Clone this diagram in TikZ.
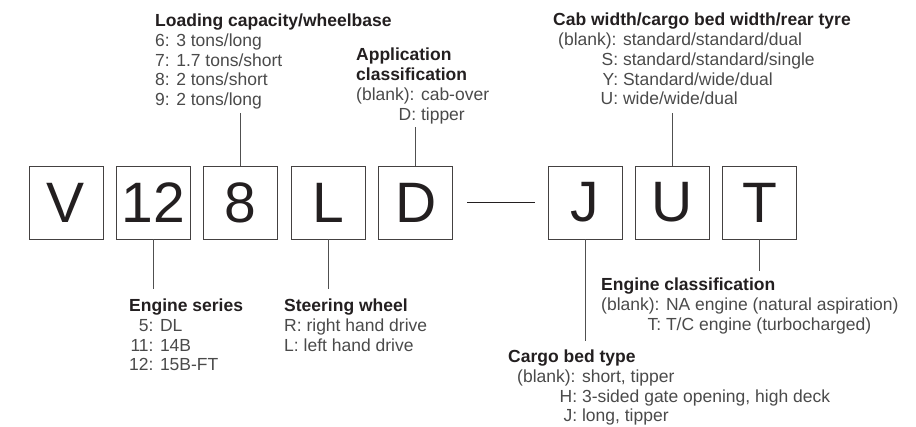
\documentclass[tikz,border=0pt]{standalone}
\usepackage{fontspec}
\setmainfont{Liberation Sans}
\usetikzlibrary{positioning}
\definecolor{inkblack}{HTML}{231F20}
\definecolor{inkgray}{HTML}{4A4A4A}
\definecolor{linegray}{HTML}{505050}
\tikzset{
	codebox/.style={draw=inkblack!85, line width=0.9pt, minimum width=74pt, minimum height=73pt,
		inner sep=0pt, text=inkblack, font=\fontsize{57}{57}\selectfont},
	lead/.style={draw=linegray, line width=0.8pt},
	legend/.style={anchor=base west, inner sep=0pt, text=inkgray, font=\fontsize{17.5}{19.7}\selectfont},
}
\newcommand{\hd}[1]{\multicolumn{2}{@{}l@{}}{\textcolor{inkblack}{\bfseries #1}}}

\begin{document}
\begin{tikzpicture}[x=1pt, y=-1pt]
	\useasboundingbox (0,0) rectangle (916,427);

	% model code boxes
	\node[codebox] (v) at (66,202.5) {V};
	\node[codebox, right=12.5pt of v] (n12) {12};
	\node[codebox, right=12.5pt of n12] (n8) {8};
	\node[codebox, right=12.5pt of n8] (l) {L};
	\node[codebox, right=12.5pt of l] (d) {D};
	\node[codebox] (j) at (585,202.5) {J};
	\node[codebox, right=12.5pt of j] (u) {U};
	\node[codebox, right=12.5pt of u] (t) {T};

	\draw[draw=inkblack, line width=1pt] ([xshift=14pt]d.east) -- ([xshift=-13pt]j.west);

	% legends
	\node[legend] (load) at (155,26.7) {\begin{tabular}[t]{@{}r@{: }l@{}}
		\hd{Loading capacity/wheelbase}\\
		6 & 3 tons/long\\
		7 & 1.7 tons/short\\
		8 & 2 tons/short\\
		9 & 2 tons/long
	\end{tabular}};
	\node[legend] (appl) at (356,61) {\begin{tabular}[t]{@{}r@{: }l@{}}
		\hd{Application}\\
		\hd{classification}\\
		(blank) & cab-over\\
		D & tipper
	\end{tabular}};
	\node[legend] (cab) at (558,26) {\begin{tabular}[t]{@{}r@{: }l@{}}
		\hd{\hspace*{-5pt}Cab width/cargo bed width/rear tyre}\\
		(blank) & standard/standard/dual\\
		S & standard/standard/single\\
		Y & Standard/wide/dual\\
		U & wide/wide/dual
	\end{tabular}};
	\node[legend] (eser) at (129,311.7) {\begin{tabular}[t]{@{}r@{: }l@{}}
		\hd{Engine series}\\
		5 & DL\\
		11 & 14B\\
		12 & 15B-FT
	\end{tabular}};
	\node[legend] (steer) at (284,311.7) {\begin{tabular}[t]{@{}l@{}}
		\textcolor{inkblack}{\bfseries Steering wheel}\\
		R: right hand drive\\
		L: left hand drive
	\end{tabular}};
	\node[legend] (ecls) at (601,291) {\begin{tabular}[t]{@{}r@{: }l@{}}
		\hd{Engine classification}\\
		(blank) & NA engine (natural aspiration)\\
		T & T/C engine (turbocharged)
	\end{tabular}};
	\node[legend] (bed) at (517,362.7) {\begin{tabular}[t]{@{}r@{: }l@{}}
		\hd{\hspace*{-9pt}Cargo bed type}\\
		(blank) & short, tipper\\
		H & 3-sided gate opening, high deck\\
		J & long, tipper
	\end{tabular}};

	% leader lines
	\coordinate (e8) at (239,113);
	\coordinate (ed) at (412,127);
	\coordinate (eu) at (672,113);
	\coordinate (e12) at (153,289);
	\coordinate (el) at (326,289);
	\coordinate (ej) at (585,341);
	\coordinate (et) at (758,271);

	\draw[lead] (n8.north) -- (n8.north |- e8);
	\draw[lead] (d.north) -- (d.north |- ed);
	\draw[lead] (u.north) -- (u.north |- eu);
	\draw[lead] (n12.south) -- (n12.south |- e12);
	\draw[lead] (l.south) -- (l.south |- el);
	\draw[lead] (j.south) -- (j.south |- ej);
	\draw[lead] (t.south) -- (t.south |- et);
\end{tikzpicture}
\end{document}
